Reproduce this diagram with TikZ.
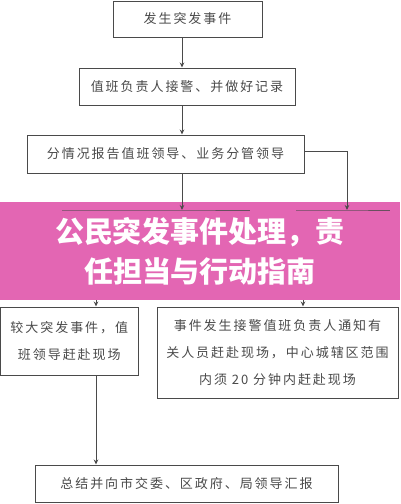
\documentclass[tikz,border=0pt]{standalone}
\usepackage{fontspec}
\newfontfamily\cjk[LetterSpace=15]{Noto Sans CJK SC}
\newfontfamily\cjkhead{Noto Sans CJK SC}
\usetikzlibrary{arrows,arrows.meta,shapes,calc}
\definecolor{banner}{HTML}{E366B3}
\definecolor{ink}{HTML}{4A4A4A}
\tikzstyle{stage}=[rectangle,draw=ink,line width=1pt,fill=white,align=center,text=ink,inner sep=0pt,font={\cjk\fontsize{13}{27}\selectfont}]
\tikzstyle{edge} = [draw,ink,line width=0.9pt,-{Stealth[length=5pt,width=4.5pt]}]
\tikzstyle{bus} = [draw,ink!80!banner,line width=0.8pt]
\tikzstyle{title} = [text=white,align=center,font={\cjkhead\bfseries\fontsize{29}{40}\selectfont}]

\begin{document}
\begin{tikzpicture}[x=1pt,y=-1pt]
    \useasboundingbox (0,0) rectangle (400,504);
    % First we draw the boxes
    \node[stage,minimum width=149pt,minimum height=36pt] (evt) at (187.5,19) {发生突发事件};
    \node[stage,minimum width=216pt,minimum height=37pt] (rec) at (187,86.5) {值班负责人接警、并做好记录};
    \node[stage,minimum width=277pt,minimum height=38pt] (rep) at (165.5,154) {分情况报告值班领导、业务分管领导};
    \node[stage,minimum width=138pt,minimum height=68pt] (big) at (69.3,341) {较大突发事件，值\\班领导赶赴现场};
    \node[stage,minimum width=241pt,minimum height=91pt] (notify) at (277.5,352.5) {事件发生接警值班负责人通知有\\关人员赶赴现场，中心城辖区范围\\内须 20 分钟内赶赴现场};
    \node[stage,minimum width=303pt,minimum height=37pt] (sum) at (186.5,483.5) {总结并向市交委、区政府、局领导汇报};

    % Points the connectors run through
    \coordinate (spine) at (182,0);
    \coordinate (bus1) at (182,210);
    \coordinate (bus2) at (347,210);
    \coordinate (drop1) at (96,300);
    \coordinate (drop2) at (303,300);

    % The banner lies over the middle
    \fill[banner] (0,202) rectangle (400,300);
    \node[title] (head) at (200,251) {公民突发事件处理，责\\任担当与行动指南};

    % Connect boxes with edges
    \foreach \source/\dest in {evt/rec, rec/rep}
        \path[edge] (\source.south -| spine) -- (\dest.north -| spine);
    \path[edge] (rep.south -| spine) -- (bus1);
    \path[edge] (rep.east |- 0,151) -| (bus2);
    \path[bus] (62,210) -- (bus1) -- (250,210);
    \path[bus] (296,210) -- (bus2) -- (390,210);

    \foreach \source/\dest in {drop1/big, drop2/notify}
        \path[edge] (\source) -- (\dest.north -| \source);
    \path[edge] (big.south -| drop1) -- (sum.north -| drop1);
\end{tikzpicture}
\end{document}
